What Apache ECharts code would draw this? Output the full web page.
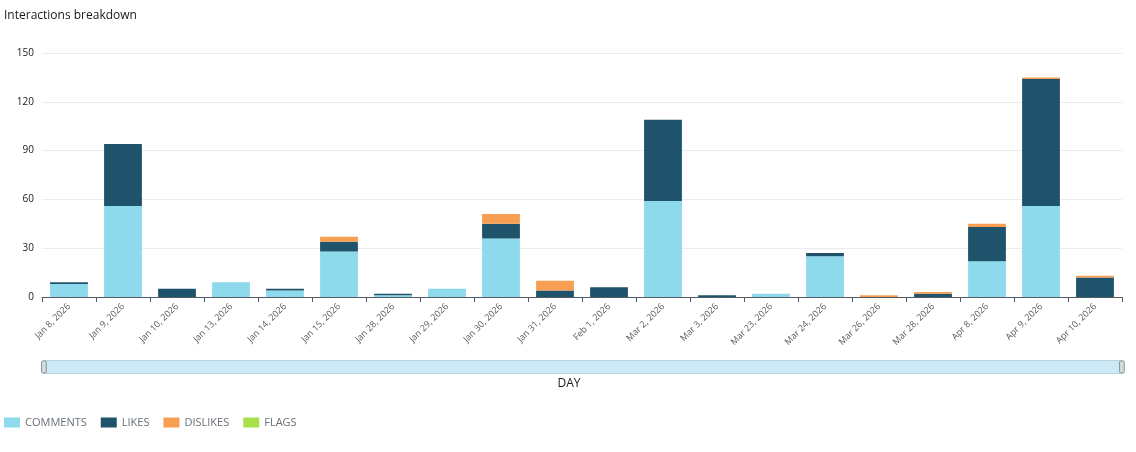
<!DOCTYPE html>
<html>
<head>
<meta charset="utf-8">
<script src="https://cdn.jsdelivr.net/npm/echarts@6/dist/echarts.min.js"></script>
<style>
html,body{margin:0;padding:0;background:#fff;}
#c{width:1136px;height:452px;}
</style>
</head>
<body>
<div id="c"></div>
<script>
const categories = ['Jan 8, 2026','Jan 9, 2026','Jan 10, 2026','Jan 13, 2026','Jan 14, 2026','Jan 15, 2026','Jan 28, 2026','Jan 29, 2026','Jan 30, 2026','Jan 31, 2026','Feb 1, 2026','Mar 2, 2026','Mar 3, 2026','Mar 23, 2026','Mar 24, 2026','Mar 26, 2026','Mar 28, 2026','Apr 8, 2026','Apr 9, 2026','Apr 10, 2026'];
const comments = [8,56,0,9,4,28,1,5,36,0,0,59,0,2,25,0,0,22,56,0];
const likes    = [1,38,5,0,1,6,1,0,9,4,6,50,1,0,2,0,2,21,78,12];
const dislikes = [0,0,0,0,0,3,0,0,6,6,0,0,0,0,0,1,1,2,1,1];
const flags    = [0,0,0,0,0,0,0,0,0,0,0,0,0,0,0,0,0,0,0,0];
const yTicks = [0,30,60,90,120,150];

const FONT = '"Open Sans", "Noto Sans", sans-serif';
const colors = ['#8ddaec','#1f536b','#f89e52','#a8e04a'];
function s(name, data, color){
  return {name, type:'bar', stack:'total', data, barWidth:'70%',
    itemStyle:{color},
    emphasis:{disabled:true}};
}
const chart = echarts.init(document.getElementById('c'), null, {renderer:'canvas'});
chart.setOption({
  animation:false,
  textStyle:{fontFamily:FONT},
  title:{text:'Interactions breakdown', left:4, top:10, padding:0,
    textStyle:{fontFamily:FONT, fontSize:12, fontWeight:'normal', color:'#16191f'}},
  color:colors,
  legend:{left:4, bottom:24, padding:0, icon:'rect', itemWidth:16, itemHeight:10, itemGap:14,
    textStyle:{fontFamily:FONT, fontSize:11, color:'#687078'},
    data:['COMMENTS','LIKES','DISLIKES','FLAGS']},
  grid:{left:42, right:14, top:53, bottom:155},
  xAxis:{type:'category', data:categories, name:'DAY', nameLocation:'middle', nameGap:81,
    nameTextStyle:{fontFamily:FONT, fontSize:12, color:'#16191f', padding:[0,26,0,0]},
    axisLine:{lineStyle:{color:'#545b64'}},
    axisTick:{show:true, alignWithLabel:false, length:5, lineStyle:{color:'#545b64'}},
    axisLabel:{rotate:45, fontSize:9, color:'#545b64', margin:8, interval:0}},
  yAxis:{type:'value', min:yTicks[0], max:yTicks[yTicks.length-1], interval:yTicks[1]-yTicks[0],
    axisLine:{show:false}, axisTick:{show:false},
    axisLabel:{fontSize:10, color:'#16191f', margin:8},
    splitLine:{lineStyle:{color:'#eaeded'}}},
  dataZoom:[{type:'slider', xAxisIndex:0, start:0, end:100, left:42, right:14, bottom:78, height:14,
    showDataShadow:false, showDetail:false, brushSelect:false,
    backgroundColor:'rgba(0,0,0,0)', borderColor:'#b6d3e0',
    fillerColor:'#cce9f5',
    moveHandleSize:0,
    handleIcon:'path://M2,0 L6,0 Q8,0 8,2 L8,18 Q8,20 6,20 L2,20 Q0,20 0,18 L0,2 Q0,0 2,0 Z',
    handleSize:'85%',
    handleStyle:{color:'#d5dbdb', borderColor:'#879596', borderWidth:1}}],
  series:[
    s('COMMENTS', comments, colors[0]),
    s('LIKES', likes, colors[1]),
    s('DISLIKES', dislikes, colors[2]),
    s('FLAGS', flags, colors[3])
  ]
});
</script>
</body>
</html>
